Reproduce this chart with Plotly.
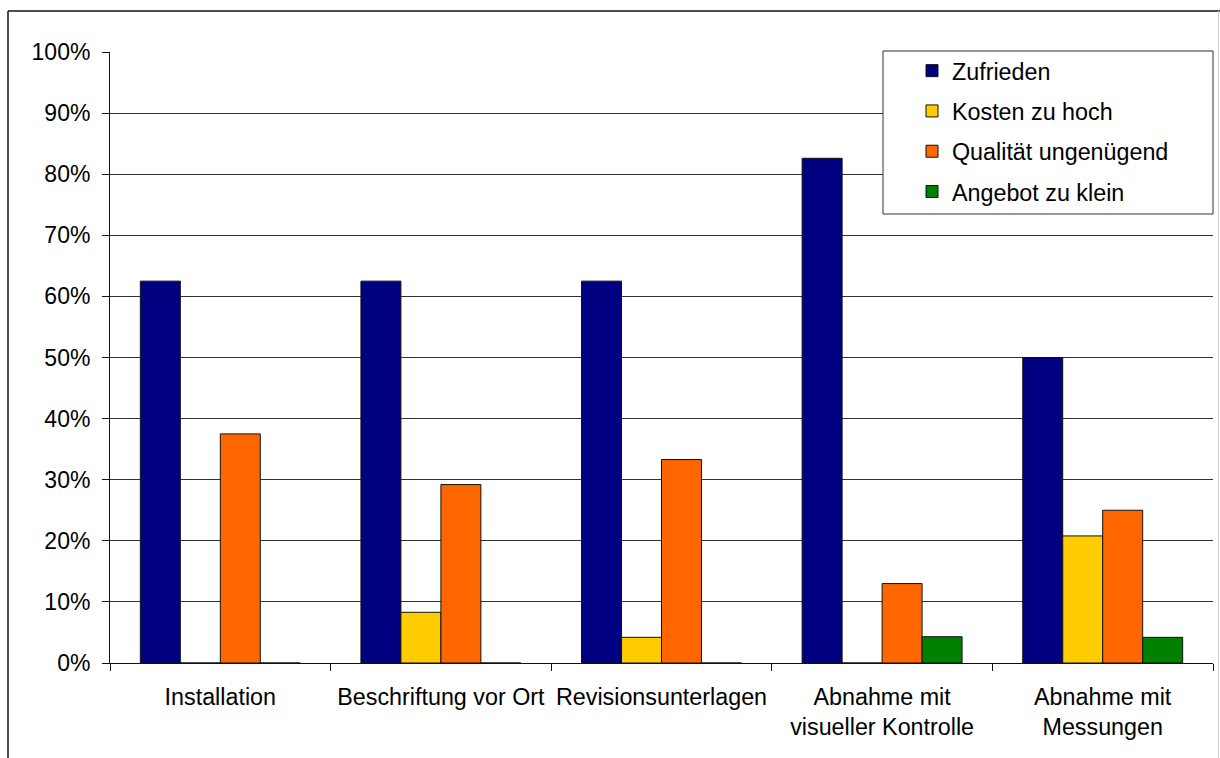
import plotly.graph_objects as go

# Survey results per service area (share of respondents)
categories = [
    "Installation",
    "Beschriftung vor Ort",
    "Revisionsunterlagen",
    "Abnahme mit<br>visueller Kontrolle",
    "Abnahme mit<br>Messungen",
]
series_names = ["Zufrieden", "Kosten zu hoch", "Qualität ungenügend", "Angebot zu klein"]
zufrieden = [0.625, 0.625, 0.625, 0.826, 0.50]
kosten_zu_hoch = [0.0, 0.083, 0.042, 0.0, 0.208]
qualitaet_ungenuegend = [0.375, 0.292, 0.333, 0.130, 0.25]
angebot_zu_klein = [0.0, 0.0, 0.0, 0.043, 0.042]
colors = ["#000080", "#FFCC00", "#FF6600", "#008000"]

W, H = 1220, 758
L, R, T, B = 110, 7, 52, 95
PW, PH = W - L - R, H - T - B


def px_x(px):
    return (px - L) / PW


def px_y(py):
    return (H - B - py) / PH


FONT = "Liberation Sans, Arial, sans-serif"

fig = go.Figure()
for name, vals, col in zip(
    series_names,
    [zufrieden, kosten_zu_hoch, qualitaet_ungenuegend, angebot_zu_klein],
    colors,
):
    fig.add_trace(
        go.Bar(
            x=categories,
            y=vals,
            name=name,
            legendgroup=name,
            marker=dict(color=col, line=dict(color="#111111", width=1)),
        )
    )

shapes = [
    # legend frame with white fill over the gridlines
    dict(type="rect", xref="paper", yref="paper",
         x0=px_x(883), x1=px_x(1213), y0=px_y(214), y1=px_y(51),
         fillcolor="white", line=dict(color="#333333", width=1), layer="above"),
    # outer chart frame
    dict(type="line", xref="paper", yref="paper",
         x0=px_x(8), x1=px_x(1222), y0=px_y(11), y1=px_y(11),
         line=dict(color="#111111", width=1.5)),
    dict(type="line", xref="paper", yref="paper",
         x0=px_x(8), x1=px_x(8), y0=px_y(11), y1=px_y(762),
         line=dict(color="#111111", width=1.5)),
    dict(type="line", xref="paper", yref="paper",
         x0=px_x(1218.5), x1=px_x(1218.5), y0=px_y(11), y1=px_y(762),
         line=dict(color="#d0d0d0", width=1)),
]

fig.update_layout(
    width=W, height=H, autosize=False,
    margin=dict(l=L, r=R, t=T, b=B, pad=0),
    paper_bgcolor="white", plot_bgcolor="white",
    font=dict(family=FONT, size=23.3, color="black"),
    barmode="group", bargap=0.275, bargroupgap=0,
    showlegend=True,
    legend=dict(
        x=px_x(912), xanchor="left",
        y=px_y(49), yanchor="top",
        bgcolor="rgba(0,0,0,0)", borderwidth=0,
        traceorder="grouped", tracegroupgap=7,
        font=dict(family=FONT, size=23.3, color="black"),
    ),
    shapes=shapes,
)

fig.update_xaxes(
    type="category",
    tickson="boundaries", ticks="outside", ticklen=7, tickcolor="#111111",
    showline=True, linecolor="#111111", linewidth=1,
    showgrid=False,
    tickfont=dict(family=FONT, size=23.3, color="black"),
    ticklabelstandoff=13,
)
fig.update_yaxes(
    range=[0, 1], dtick=0.1, tickformat=".0%",
    ticks="outside", ticklen=7, tickcolor="#111111",
    showline=True, linecolor="#111111", linewidth=1,
    showgrid=True, gridcolor="#333333", gridwidth=1,
    zeroline=False,
    tickfont=dict(family=FONT, size=23, color="black"),
    ticklabelstandoff=7,
)

fig.write_html("out.html")
